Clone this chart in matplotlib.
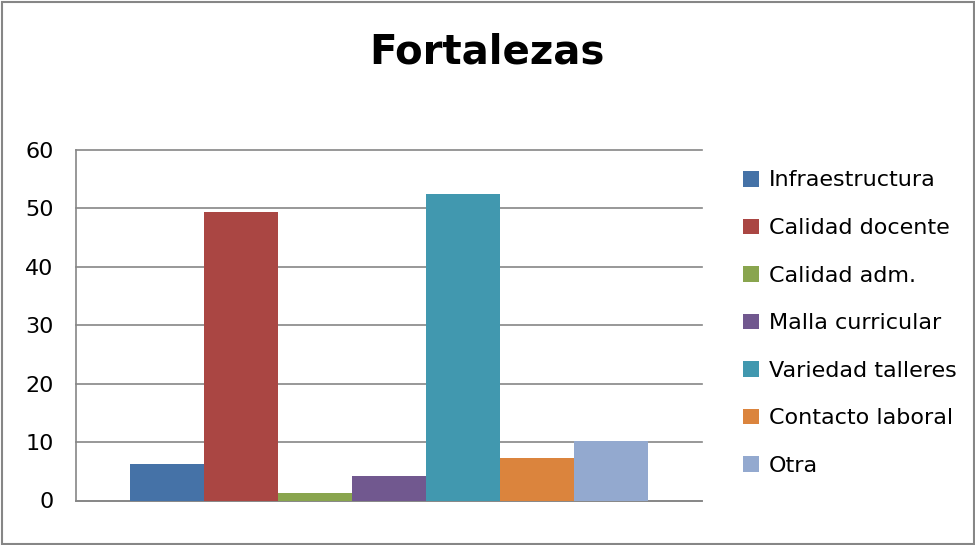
import matplotlib.pyplot as plt
from matplotlib.patches import Rectangle

# datos
categorias = ['Infraestructura', 'Calidad docente', 'Calidad adm.', 'Malla curricular',
              'Variedad talleres', 'Contacto laboral', 'Otra']
valores = [6.3, 49.4, 1.3, 4.2, 52.5, 7.3, 10.1]
colores = ['#4572A7', '#AA4643', '#89A54E', '#71588F', '#4198AF', '#DB843D', '#93A9CF']
ticks_y = [0, 10, 20, 30, 40, 50, 60]

fig = plt.figure(figsize=(9.75, 5.45), dpi=100)
ax = fig.add_axes([76 / 975, 44.5 / 545, 626 / 975, 350.5 / 545])

for i, (cat, val, col) in enumerate(zip(categorias, valores, colores)):
    ax.bar(i, val, width=1.0, color=col, label=cat, zorder=3)

margen = 0.73
ax.set_xlim(-0.5 - margen, len(valores) - 0.5 + margen)
ax.set_ylim(0, 60)
ax.set_yticks(ticks_y)
ax.set_xticks([])
ax.yaxis.grid(True, color='#868686', linewidth=1.2, zorder=0)
for g in ax.yaxis.get_gridlines():
    g.set_clip_on(False)
ax.tick_params(axis='y', length=0, pad=16, labelsize=16)
for lado in ['top', 'right']:
    ax.spines[lado].set_visible(False)
for lado in ['left', 'bottom']:
    ax.spines[lado].set_color('#868686')
    ax.spines[lado].set_linewidth(1.2)

fig.suptitle('Fortalezas', x=487 / 975, y=1 - 53 / 545, va='center',
             fontsize=29, fontweight='bold')

ax.legend(loc='upper left', bbox_to_anchor=(743 / 975, 1 - 170.5 / 545),
          bbox_transform=fig.transFigure, frameon=False, fontsize=16,
          handlelength=0.7, handleheight=0.7, handletextpad=0.45,
          labelspacing=1.24, borderpad=0, borderaxespad=0)

# borde exterior del grafico
fig.patches.append(Rectangle((1.5 / 975, 1.5 / 545), 972 / 975, 542 / 545,
                             transform=fig.transFigure, fill=False,
                             edgecolor='#868686', linewidth=1.5))

fig.savefig('out.png', dpi=100)
